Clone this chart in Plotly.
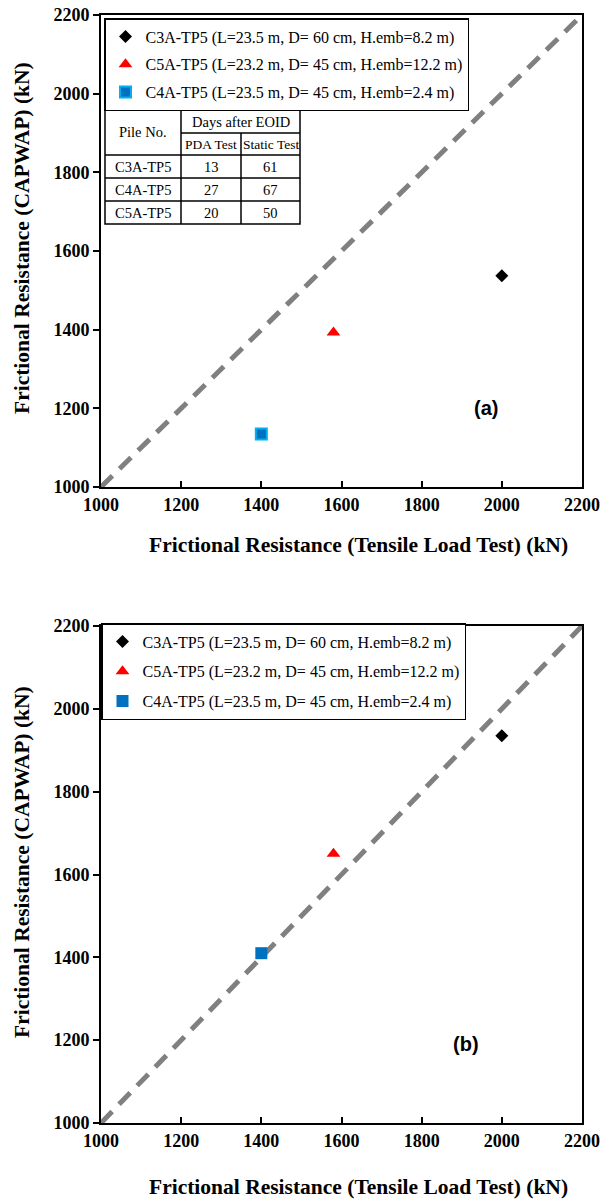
import plotly.graph_objects as go

# ---------------- data ----------------
pile_names = ["C3A-TP5", "C5A-TP5", "C4A-TP5"]
legend_labels = [
    "C3A-TP5 (L=23.5 m, D= 60 cm, H.emb=8.2 m)",
    "C5A-TP5 (L=23.2 m, D= 45 cm, H.emb=12.2 m)",
    "C4A-TP5 (L=23.5 m, D= 45 cm, H.emb=2.4 m)",
]
tensile_load = [2000, 1580, 1400]
capwap_a = [1537, 1393, 1135]
capwap_b = [1935, 1650, 1410]

line_1to1 = [1000, 2200]
ticks = [1000, 1200, 1400, 1600, 1800, 2000, 2200]

table_header = ["Pile No.", "Days after EOID", "PDA Test", "Static Test"]
table_piles = ["C3A-TP5", "C4A-TP5", "C5A-TP5"]
table_pda = [13, 27, 20]
table_static = [61, 67, 50]

# ---------------- styling ----------------
W, H = 603, 1200
SERIF = "Liberation Serif"
symbols = ["diamond", "triangle-up", "square"]
colors = ["#000000", "#FF0000", "#0070C0"]
sizes = [10, 12, 11]
line_cols_a = ["#000000", "#FF0000", "#00B0F0"]


def px(x):
    return x / W


def py(y):
    return 1 - y / H


fig = go.Figure()

for ax, capw, leg in [("", capwap_a, "legend"), ("2", capwap_b, "legend2")]:
    fig.add_trace(go.Scatter(
        x=line_1to1, y=line_1to1, mode="lines",
        line=dict(color="#808080", width=5, dash="16px,10px"),
        showlegend=False, xaxis="x" + ax, yaxis="y" + ax, hoverinfo="skip",
    ))
    for i in range(3):
        if ax == "":
            mline = dict(color=line_cols_a[i], width=2 if i == 2 else 0)
            size = sizes[i]
        else:
            mline = dict(color=colors[i], width=0)
            size = sizes[i] + 1 if i == 2 else sizes[i]
        fig.add_trace(go.Scatter(
            x=[tensile_load[i]], y=[capw[i]], mode="markers",
            marker=dict(symbol=symbols[i], color=colors[i], size=size, line=mline),
            name=legend_labels[i], legend=leg, legendgroup=leg + str(i),
            xaxis="x" + ax, yaxis="y" + ax,
        ))

xdom = [px(101), px(582)]
axis_common = dict(
    range=[1000, 2200], tickvals=ticks, ticktext=["<b>%d</b>" % t for t in ticks],
    showgrid=False, zeroline=False, automargin=False,
    showline=True, linecolor="black", linewidth=2, mirror=True,
    tickfont=dict(family=SERIF, size=18, color="black"),
    ticklen=6, tickcolor="black", tickwidth=1.5,
)

leg_font = dict(family=SERIF, size=16, color="black")
fig.update_layout(
    width=W, height=H, margin=dict(l=0, r=0, t=0, b=0),
    plot_bgcolor="white", paper_bgcolor="white",
    xaxis=dict(domain=xdom, anchor="y", ticks="inside", **axis_common),
    yaxis=dict(domain=[py(487), py(15)], anchor="x", ticks="outside", **axis_common),
    xaxis2=dict(domain=xdom, anchor="y2", ticks="inside", **axis_common),
    yaxis2=dict(domain=[py(1123), py(626)], anchor="x2", ticks="outside", **axis_common),
    legend=dict(
        x=px(104), y=py(18), xanchor="left", yanchor="top",
        bgcolor="white", bordercolor="black", borderwidth=1.5,
        font=leg_font, traceorder="grouped", tracegroupgap=4, itemwidth=30,
    ),
    legend2=dict(
        x=px(101), y=py(623), xanchor="left", yanchor="top",
        bgcolor="white", bordercolor="black", borderwidth=1.5,
        font=leg_font, traceorder="grouped", tracegroupgap=6, itemwidth=30,
    ),
    showlegend=True,
)

annotations = []
# axis titles
title_font = dict(family=SERIF, size=21.5, color="black")
for yt in [545, 1187]:
    annotations.append(dict(
        text="<b>Frictional Resistance (Tensile Load Test) (kN)</b>", x=px(358), y=py(yt),
        xref="paper", yref="paper", showarrow=False, font=title_font,
        xanchor="center", yanchor="middle",
    ))
for yc in [238, 862]:
    annotations.append(dict(
        text="<b>Frictional Resistance (CAPWAP) (kN)</b>", x=px(22), y=py(yc),
        xref="paper", yref="paper", showarrow=False, font=title_font,
        textangle=-90, xanchor="center", yanchor="middle",
    ))
# panel labels
annotations.append(dict(text="<b>(a)</b>", x=1960, y=1200, xref="x", yref="y", showarrow=False,
                        font=dict(family="Liberation Sans", size=20, color="black")))
annotations.append(dict(text="<b>(b)</b>", x=1910, y=1190, xref="x2", yref="y2", showarrow=False,
                        font=dict(family="Liberation Sans", size=20, color="black")))

# ---------------- table (top panel) ----------------
shapes = []
tx = [105, 181, 241, 300]
ty = [110, 133, 155, 178, 201, 224]
lw = dict(color="black", width=1.5)
shapes.append(dict(type="rect", xref="paper", yref="paper", x0=px(tx[0]), x1=px(tx[3]),
                   y0=py(ty[0]), y1=py(ty[5]), line=lw, fillcolor="white", layer="above"))
shapes.append(dict(type="line", xref="paper", yref="paper", x0=px(tx[1]), x1=px(tx[1]),
                   y0=py(ty[0]), y1=py(ty[5]), line=lw))
shapes.append(dict(type="line", xref="paper", yref="paper", x0=px(tx[2]), x1=px(tx[2]),
                   y0=py(ty[1]), y1=py(ty[5]), line=lw))
shapes.append(dict(type="line", xref="paper", yref="paper", x0=px(tx[1]), x1=px(tx[3]),
                   y0=py(ty[1]), y1=py(ty[1]), line=lw))
for yh in ty[2:5]:
    shapes.append(dict(type="line", xref="paper", yref="paper", x0=px(tx[0]), x1=px(tx[3]),
                       y0=py(yh), y1=py(yh), line=lw))


def cell(text, xc, yc, size=14.5):
    annotations.append(dict(text=str(text), x=px(xc), y=py(yc), xref="paper", yref="paper",
                            showarrow=False, xanchor="center", yanchor="middle",
                            font=dict(family=SERIF, size=size, color="black")))


cell(table_header[0], (tx[0] + tx[1]) / 2, (ty[0] + ty[2]) / 2)
cell(table_header[1], (tx[1] + tx[3]) / 2, (ty[0] + ty[1]) / 2)
cell(table_header[2], (tx[1] + tx[2]) / 2, (ty[1] + ty[2]) / 2, 13.5)
cell(table_header[3], (tx[2] + tx[3]) / 2, (ty[1] + ty[2]) / 2, 13.5)
for r in range(3):
    yc = (ty[2 + r] + ty[3 + r]) / 2
    cell(table_piles[r], (tx[0] + tx[1]) / 2, yc)
    cell(table_pda[r], (tx[1] + tx[2]) / 2, yc)
    cell(table_static[r], (tx[2] + tx[3]) / 2, yc)

fig.update_layout(annotations=annotations, shapes=shapes)
fig.write_html("out.html", config={"displayModeBar": False},
               post_script="document.body.style.margin='0';document.body.style.padding='0';")
